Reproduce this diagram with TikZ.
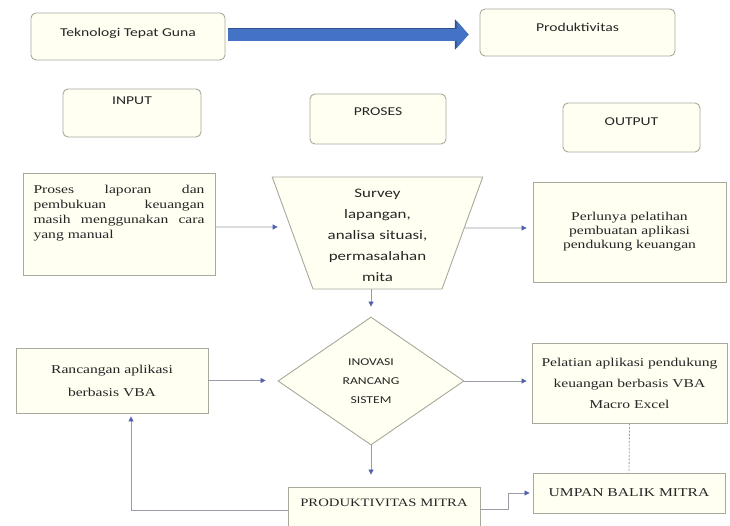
\documentclass[tikz,border=0pt]{standalone}
\usepackage{fontspec}
\newfontfamily\calibri[FakeStretch=1.3]{Carlito}
\newfontfamily\cambria[FakeStretch=1.3]{Liberation Serif}
\usetikzlibrary{arrows.meta,calc,shapes.geometric,shadows}
\definecolor{cream}{HTML}{FFFFF2}
\definecolor{boxline}{HTML}{A8A89C}
\definecolor{connline}{HTML}{9A9CA8}
\definecolor{tipblue}{HTML}{5060B0}
\definecolor{arrowblue}{HTML}{4472C4}
\definecolor{arrowdark}{HTML}{2F528F}
\tikzset{
  capbox/.style={draw=boxline, fill=cream, rounded corners=5pt, line width=0.9pt,
    font=\calibri\fontsize{12}{14}\selectfont, text=black!85, text height=8pt},
  plainbox/.style={draw=boxline, fill=cream, line width=0.9pt, align=center,
    drop shadow={shadow xshift=0.8pt, shadow yshift=-1.2pt, fill=black!40, opacity=0.5},
    font=\cambria\fontsize{12}{15}\selectfont, text=black!85},
  conn/.style={draw=connline, line width=0.8pt, -{Triangle[length=5pt,width=5pt,color=tipblue]}},
  dotline/.style={draw=connline, line width=0.8pt, dash pattern=on 2pt off 1.5pt},
  bigarrow/.style={line width=12pt, draw=arrowblue, -{Triangle[length=12pt,width=27pt]},
    shorten <=3pt, shorten >=11pt,
    preaction={draw=arrowdark, line width=13.6pt, -{Triangle[length=13.6pt,width=29.5pt]}}}
}
\begin{document}
\begin{tikzpicture}[x=1pt, y=-1pt]
  \useasboundingbox (0,0) rectangle (730,525);
  \fill[white] (0,0) rectangle (730,525);

  \node[capbox, minimum width=194pt, minimum height=47pt, text depth=9pt] (tek) at (128,36.5) {Teknologi Tepat Guna};
  \node[capbox, minimum width=195pt, minimum height=47pt, text depth=10pt] (prod) at (577.5,32.5) {Produktivitas};
  \node[capbox, minimum width=138pt, minimum height=48pt, text depth=25pt] (input) at (132,113) {INPUT};
  \node[capbox, minimum width=136pt, minimum height=50pt, text depth=15pt] (proses) at (378,119) {PROSES};
  \node[capbox, minimum width=137pt, minimum height=49pt, text depth=13pt] (output) at (631.5,127.5) {OUTPUT};

  \node[plainbox, minimum width=192pt, minimum height=102pt, text width=171pt, align=left,
    text depth=68.5pt] (inbox) at (119,224)
    {Proses \hfill laporan \hfill dan\\ pembukuan \hfill keuangan\\ masih \hfill menggunakan \hfill cara\\ yang manual};
  \node[trapezium, shape border rotate=180, trapezium angle=70, draw=boxline, fill=cream,
    line width=0.9pt, text width=113pt, inner xsep=8pt, inner ysep=7.5pt,
    text height=13pt, text depth=84pt,
    align=center, font=\calibri\fontsize{13}{21}\selectfont, text=black!85] (survey) at (377.5,233)
    {Survey\\ lapangan,\\ analisa situasi,\\ permasalahan\\ mita};
  \node[plainbox, minimum width=193pt, minimum height=100pt, font=\cambria\fontsize{12}{14}\selectfont] (outbox) at (629.5,232)
    {Perlunya pelatihan\\ pembuatan aplikasi\\ pendukung keuangan};

  \node[diamond, aspect=1.45, draw=boxline, fill=cream, line width=0.9pt, minimum width=186pt,
    minimum height=128pt, inner sep=0pt, align=center, text depth=-8pt,
    font=\calibri\fontsize{10.5}{19}\selectfont, text=black!85] (innov) at (371,381)
    {INOVASI\\ RANCANG\\ SISTEM};
  \node[plainbox, minimum width=192pt, minimum height=65pt, font=\cambria\fontsize{12}{23}\selectfont]
    (rancangan) at (112,380.5) {Rancangan aplikasi\\ berbasis VBA};
  \node[plainbox, minimum width=195pt, minimum height=80pt, font=\cambria\fontsize{12}{21}\selectfont] (pelatian) at (629.5,383)
    {Pelatian aplikasi pendukung\\ keuangan berbasis VBA\\ Macro Excel};

  \node[plainbox, minimum width=192pt, minimum height=48pt, text height=9pt, text depth=19pt,
    font=\cambria\fontsize{11.3}{14}\selectfont] (prodm) at (384,511)
    {PRODUKTIVITAS MITRA};
  \node[plainbox, minimum width=192pt, minimum height=40pt] (umpan) at (629,493) {UMPAN BALIK MITRA};

  \draw[bigarrow] ($(tek.east)+(0,-2)$) -- ($(tek.east -| prod.west)+(0,-2)$);

  \draw[conn, shorten >=14.5pt] ($(inbox.east)+(0,3)$) -- ($(survey.west)+(0,-6)$);
  \draw[conn, shorten <=2pt, shorten >=6pt] ($(survey.east)+(0,-5)$) -- ($(outbox.west)+(0,-4)$);
  \draw[conn, shorten >=10pt] (innov.north |- survey.south) -- (innov.north);
  \draw[conn, shorten >=12pt] (rancangan.east) -- (rancangan.east -| innov.west);
  \draw[conn, shorten >=5pt] (innov.east) -- (innov.east -| pelatian.west);
  \draw[conn, shorten >=12pt] (innov.south) -- (innov.south |- prodm.north);
  \draw[conn, shorten >=3pt] ($(prodm.west)+(0,-1)$) -| ($(rancangan.south)+(19,0)$);
  \draw[conn, shorten >=3pt] ($(prodm.east)+(0,-2)$) -- ++(28,0) |- (umpan.west);
  \draw[dotline] (pelatian.south) -- (umpan.north);
\end{tikzpicture}
\end{document}
